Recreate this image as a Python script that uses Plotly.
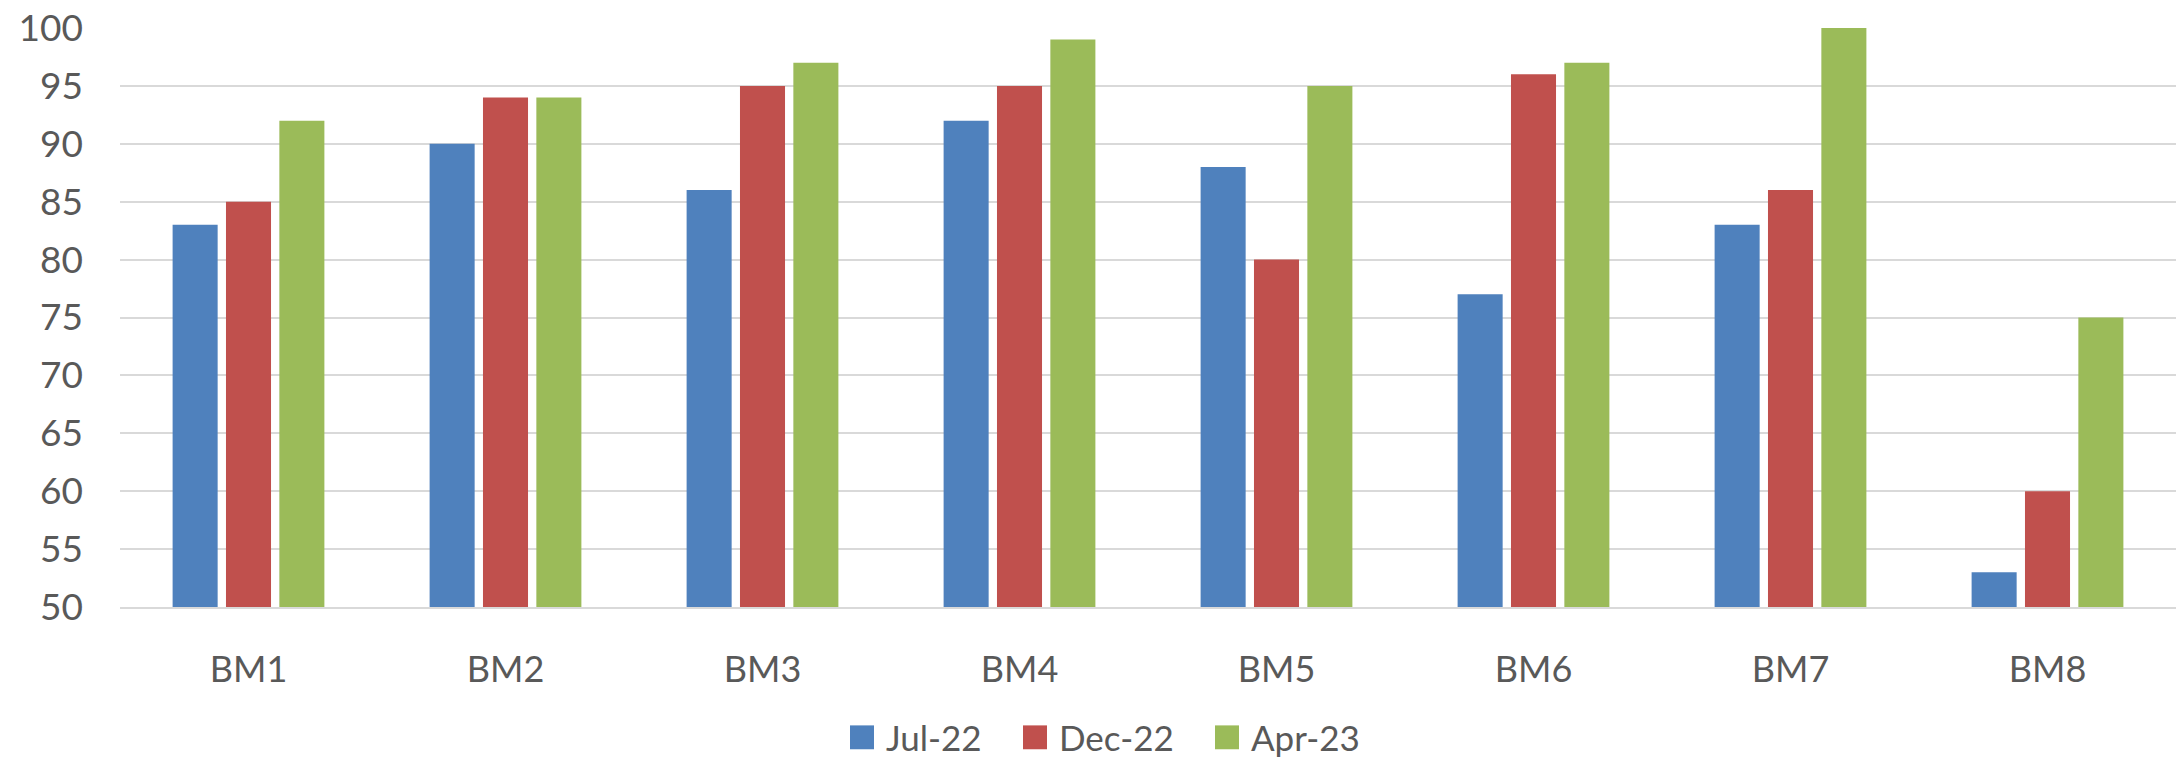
import plotly.graph_objects as go

# Survey scores per benchmark across three rounds
categories = ["BM1", "BM2", "BM3", "BM4", "BM5", "BM6", "BM7", "BM8"]
series_names = ["Jul-22", "Dec-22", "Apr-23"]
jul_22 = [83, 90, 86, 92, 88, 77, 83, 53]
dec_22 = [85, 94, 95, 95, 80, 96, 86, 60]
apr_23 = [92, 94, 97, 99, 95, 97, 100, 75]
y_ticks = [50, 55, 60, 65, 70, 75, 80, 85, 90, 95, 100]

colors = ["#4F81BD", "#C0504D", "#9BBB59"]
text_color = "#595959"
grid_color = "#D9D9D9"
font_family = "Lato, 'Open Sans', sans-serif"

W, H = 2180, 758
margin = dict(l=120, r=4, t=25, b=151)
plot_w = W - margin["l"] - margin["r"]
plot_h = H - margin["t"] - margin["b"]

fig = go.Figure()
for name, values, color in zip(series_names, [jul_22, dec_22, apr_23], colors):
    fig.add_trace(go.Bar(
        x=categories, y=values, name=name,
        marker=dict(color=color, line=dict(width=0)),
        showlegend=False,
    ))

# Legend drawn as large colour swatches with labels below the plot
def px_to_paper_x(px):
    return (px - margin["l"]) / plot_w

def px_to_paper_y(py):
    return (H - margin["b"] - py) / plot_h

legend_y_center = 738
swatch = 24
swatch_lefts = [850, 1023, 1215]
shapes = []
annotations = []
for name, color, left in zip(series_names, colors, swatch_lefts):
    shapes.append(dict(
        type="rect", xref="paper", yref="paper",
        x0=px_to_paper_x(left), x1=px_to_paper_x(left + swatch),
        y0=px_to_paper_y(legend_y_center + swatch / 2),
        y1=px_to_paper_y(legend_y_center - swatch / 2),
        fillcolor=color, line=dict(width=0),
    ))
    annotations.append(dict(
        text=name, xref="paper", yref="paper",
        x=px_to_paper_x(left + swatch + 10), y=px_to_paper_y(legend_y_center),
        xanchor="left", yanchor="middle", showarrow=False,
        font=dict(family=font_family, size=35, color=text_color),
    ))

fig.update_layout(
    width=W, height=H, autosize=False,
    margin=dict(margin, pad=0),
    paper_bgcolor="white", plot_bgcolor="white",
    barmode="group", bargap=0.377, bargroupgap=0.156,
    font=dict(family=font_family, size=36, color=text_color),
    shapes=shapes, annotations=annotations,
    showlegend=False,
)
fig.update_xaxes(
    showgrid=False, showline=True, linecolor=grid_color, linewidth=2,
    ticks="", ticklabelstandoff=30,
    tickfont=dict(family=font_family, size=36, color=text_color),
)
fig.update_yaxes(
    range=[50, 100], tickvals=y_ticks,
    showgrid=True, gridcolor=grid_color, gridwidth=2,
    zeroline=False, showline=False, ticks="", ticklabelstandoff=36,
    tickfont=dict(family=font_family, size=37, color=text_color),
)

fig.write_html("out.html")
